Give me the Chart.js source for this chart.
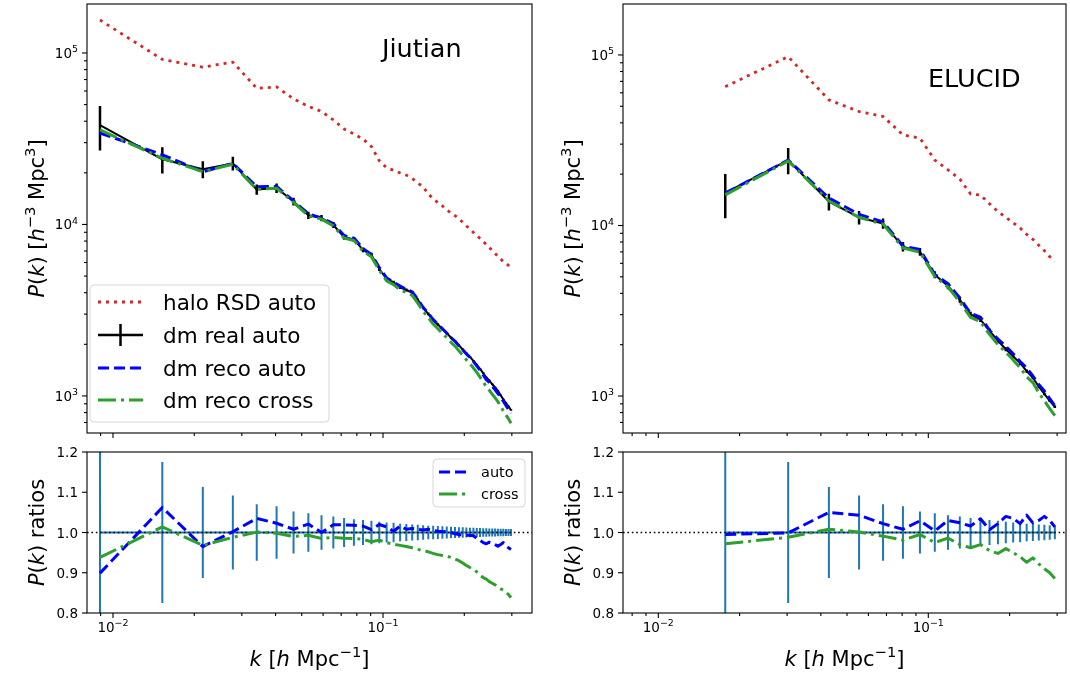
<!DOCTYPE html>
<html>
<head>
<meta charset="utf-8">
<script src="https://cdn.jsdelivr.net/npm/chart.js@4.4.1/dist/chart.umd.min.js"></script>
<style>
  html, body { margin: 0; padding: 0; background: #fff; }
  #wrap { position: relative; width: 1070px; height: 675px; }
  #wrap canvas { position: absolute; left: 0; top: 0; }
</style>
</head>
<body>
<div id="wrap">
  <canvas id="jTop" width="1070" height="675"></canvas>
  <canvas id="jBot" width="1070" height="675"></canvas>
  <canvas id="eTop" width="1070" height="675"></canvas>
  <canvas id="eBot" width="1070" height="675"></canvas>
</div>
<script>
// ---- Jiutian (47 k bins) ----
const kJ = [0.00895, 0.01523, 0.02151, 0.02779, 0.03407, 0.04035, 0.04663, 0.05291, 0.05919, 0.06547,
  0.07175, 0.07803, 0.08431, 0.09059, 0.09687, 0.10315, 0.10943, 0.11571, 0.12199, 0.12827,
  0.13455, 0.14083, 0.14711, 0.15339, 0.15967, 0.16595, 0.17223, 0.17851, 0.18479, 0.19107,
  0.19735, 0.20363, 0.20991, 0.21619, 0.22247, 0.22875, 0.23503, 0.24131, 0.24759, 0.25387,
  0.26015, 0.26643, 0.27271, 0.27899, 0.28527, 0.29155, 0.29783];
const haloJ = [155600, 91700, 82700, 88500, 62200, 63400, 54000, 48800, 45600, 40700,
  36000, 33700, 31500, 28500, 23500, 21400, 20700, 19950, 19400, 18550,
  17450, 16550, 15070, 14090, 13440, 12820, 12150, 11680, 11250, 10820,
  10280, 9800, 9420, 8980, 8630, 8280, 7960, 7640, 7340, 7050,
  6770, 6510, 6300, 6070, 5930, 5770, 5600];
const realJ = [38000, 24000, 21000, 22700, 16000, 16300, 13600, 11300, 10900, 9930,
  8450, 8180, 7110, 6640, 5500, 4810, 4590, 4300, 4150, 4010,
  3630, 3260, 3010, 2770, 2610, 2460, 2320, 2190, 2090, 1970,
  1870, 1770, 1690, 1600, 1520, 1440, 1360, 1280, 1230, 1170,
  1120, 1070, 1010, 955, 910, 869, 828];
const autoJ = [0.899, 1.062, 0.965, 1.002, 1.035, 1.023, 1.008, 1.021, 1.000, 1.019,
  1.019, 1.018, 1.016, 1.007, 1.020, 1.014, 1.003, 1.016, 1.008, 1.010,
  1.008, 1.006, 1.008, 1.005, 1.003, 1.002, 1.003, 1.000, 0.997, 0.995,
  0.993, 0.993, 0.993, 0.992, 0.985, 0.980, 0.975, 0.972, 0.976, 0.974,
  0.970, 0.966, 0.970, 0.975, 0.968, 0.962, 0.958];
const crossJ = [0.938, 1.014, 0.968, 0.988, 1.001, 0.998, 0.990, 0.993, 0.985, 0.988,
  0.986, 0.985, 0.983, 0.977, 0.981, 0.975, 0.971, 0.968, 0.965, 0.962,
  0.958, 0.955, 0.952, 0.948, 0.945, 0.943, 0.941, 0.938, 0.934, 0.930,
  0.924, 0.918, 0.913, 0.909, 0.902, 0.894, 0.888, 0.884, 0.878, 0.874,
  0.870, 0.865, 0.860, 0.857, 0.852, 0.846, 0.838];
const errJ = [0.290, 0.175, 0.113, 0.092, 0.070, 0.065, 0.052, 0.048, 0.043, 0.040,
  0.036, 0.033, 0.031, 0.029, 0.027, 0.025, 0.024, 0.022, 0.021, 0.020,
  0.019, 0.018, 0.017, 0.0165, 0.016, 0.0153, 0.0147, 0.0142, 0.0137, 0.0132,
  0.0128, 0.0124, 0.012, 0.0117, 0.0113, 0.011, 0.0107, 0.0104, 0.0102, 0.0099,
  0.0097, 0.0095, 0.0093, 0.0091, 0.0089, 0.0087, 0.0085];

// ---- ELUCID (23 k bins) ----
const kE = [0.0177, 0.03027, 0.04284, 0.05541, 0.06798, 0.08055, 0.09312, 0.10569, 0.11826, 0.13083,
  0.1434, 0.15597, 0.16854, 0.18111, 0.19368, 0.20625, 0.21882, 0.23139, 0.24396, 0.25653,
  0.2691, 0.28167, 0.29424];
const haloE = [65200, 97700, 54500, 46600, 43600, 34000, 32500, 24200, 21200, 18700,
  15300, 15100, 13400, 12050, 11170, 10380, 9660, 8870, 8300, 7650,
  7120, 6560, 6210];
const realE = [15550, 24200, 13800, 11150, 10280, 7520, 7020, 5150, 4420, 3670,
  3010, 2810, 2410, 2110, 1880, 1710, 1560, 1400, 1280, 1135,
  1030, 938, 865];
const autoE = [0.995, 0.999, 1.050, 1.043, 1.022, 1.008, 1.029, 1.004, 1.030, 1.024,
  1.016, 1.034, 1.007, 1.022, 1.040, 1.035, 1.022, 1.043, 1.024, 1.030,
  1.040, 1.030, 1.014];
const crossE = [0.972, 0.988, 1.008, 1.001, 0.991, 0.981, 0.995, 0.975, 0.986, 0.970,
  0.962, 0.970, 0.955, 0.948, 0.960, 0.950, 0.940, 0.926, 0.937, 0.922,
  0.910, 0.900, 0.886];
const errE = [0.290, 0.175, 0.113, 0.092, 0.070, 0.065, 0.052, 0.048, 0.043, 0.040,
  0.036, 0.033, 0.031, 0.029, 0.027, 0.025, 0.024, 0.022, 0.021, 0.020,
  0.019, 0.018, 0.017];

// ---- ticks ----
const xMajor = [0.01, 0.1];
const xMajorText = [['10', '−2'], ['10', '−1']];
const xMinor = [0.007, 0.008, 0.009, 0.02, 0.03, 0.04, 0.05, 0.06, 0.07, 0.08, 0.09, 0.2, 0.3];
const pMajor = [1e3, 1e4, 1e5];
const pMajorText = [['10', '3'], ['10', '4'], ['10', '5']];
const pMinor = [600, 700, 800, 900, 2e3, 3e3, 4e3, 5e3, 6e3, 7e3, 8e3, 9e3,
  2e4, 3e4, 4e4, 5e4, 6e4, 7e4, 8e4, 9e4];
const rTicks = [0.8, 0.9, 1.0, 1.1, 1.2];
const rTickText = ['0.8', '0.9', '1.0', '1.1', '1.2'];

const FONT = '"DejaVu Sans", sans-serif';
const RED = '#d62728', BLUE = '#0000ff', GREEN = '#2ca02c', TBLUE = '#1f77b4';
const DASH = [11, 5], DASHDOT = [18, 5, 3, 5], DOT = [3, 5];

const pts = (xs, ys) => xs.map((x, i) => ({x, y: ys[i]}));
const mul = (a, b) => a.map((v, i) => v * b[i]);
const bars = (xs, ys, e) => xs.flatMap((x, i) => [
  {x, y: ys[i] * (1 - e[i])}, {x, y: ys[i] * (1 + e[i])}, {x, y: null}]);
const line = (data, color, width, dash) => ({
  data, borderColor: color, borderWidth: width, borderDash: dash || [],
  pointRadius: 0, tension: 0, spanGaps: false, clip: 0, fill: false,
  borderCapStyle: 'butt', borderJoinStyle: 'round'
});

// mathtext-like text: segments [text, style] with 'i' italic and 's' superscript
function rich(ctx, segs, x, y, size, align) {
  const parts = segs.map(([t, st]) => {
    const sup = st.includes('s');
    const fs = sup ? size * 0.7 : size;
    const font = (st.includes('i') ? 'italic ' : '') + fs + 'px ' + FONT;
    ctx.font = font;
    return {t, font, sup, w: ctx.measureText(t).width};
  });
  const w = parts.reduce((s, p) => s + p.w, 0);
  let cx = align === 'center' ? x - w / 2 : align === 'right' ? x - w : x;
  ctx.textAlign = 'left';
  ctx.textBaseline = 'alphabetic';
  for (const p of parts) {
    ctx.font = p.font;
    ctx.fillText(p.t, cx, p.sup ? y - size * 0.42 : y);
    cx += p.w;
  }
}

function legendHandle(ctx, h, x0, x1, y) {
  ctx.save();
  ctx.strokeStyle = h.color;
  ctx.lineWidth = h.width;
  ctx.setLineDash(h.dash || []);
  ctx.beginPath(); ctx.moveTo(x0, y); ctx.lineTo(x1, y); ctx.stroke();
  if (h.errbar) {
    ctx.setLineDash([]);
    const xm = (x0 + x1) / 2;
    ctx.beginPath(); ctx.moveTo(xm, y - 11); ctx.lineTo(xm, y + 11); ctx.stroke();
  }
  ctx.restore();
}

const mplAxes = {
  id: 'mplAxes',
  afterDraw(chart, args, o) {
    const {ctx, chartArea: a} = chart;
    const sx = chart.scales.x, sy = chart.scales.y;
    ctx.save();
    ctx.fillStyle = '#000';
    ctx.strokeStyle = '#000';
    ctx.lineWidth = 1.1;
    ctx.strokeRect(a.left, a.top, a.right - a.left, a.bottom - a.top);

    const tick = (x0, y0, x1, y1) => { ctx.beginPath(); ctx.moveTo(x0, y0); ctx.lineTo(x1, y1); ctx.stroke(); };
    // x ticks
    xMinor.filter(v => v >= sx.min && v <= sx.max).forEach(v => {
      const p = sx.getPixelForValue(v); tick(p, a.bottom, p, a.bottom + 3);
    });
    xMajor.forEach((v, i) => {
      const p = sx.getPixelForValue(v); tick(p, a.bottom, p, a.bottom + 5);
      if (o.xLabels) rich(ctx, [[xMajorText[i][0], ''], [xMajorText[i][1], 's']], p, a.bottom + 19, 13.5, 'center');
    });
    // y ticks
    if (o.ratio) {
      rTicks.forEach((v, i) => {
        const p = sy.getPixelForValue(v); tick(a.left - 5, p, a.left, p);
        rich(ctx, [[rTickText[i], '']], a.left - 9, p + 5, 13.5, 'right');
      });
    } else {
      pMinor.filter(v => v >= sy.min && v <= sy.max).forEach(v => {
        const p = sy.getPixelForValue(v); tick(a.left - 3, p, a.left, p);
      });
      pMajor.forEach((v, i) => {
        const p = sy.getPixelForValue(v); tick(a.left - 5, p, a.left, p);
        rich(ctx, [[pMajorText[i][0], ''], [pMajorText[i][1], 's']], a.left - 9, p + 5, 13.5, 'right');
      });
    }
    // axis titles
    ctx.save();
    ctx.translate(a.left - 43, (a.top + a.bottom) / 2);
    ctx.rotate(-Math.PI / 2);
    rich(ctx, o.yTitle, 0, 0, 21, 'center');
    ctx.restore();
    if (o.xTitle) rich(ctx, o.xTitle, (a.left + a.right) / 2, 666, 21, 'center');
    // panel label
    if (o.label) {
      ctx.font = '25.5px ' + FONT; ctx.textAlign = 'left'; ctx.textBaseline = 'alphabetic';
      ctx.fillText(o.label.text, o.label.x, o.label.y);
    }
    // legend
    if (o.legend) {
      const L = o.legend;
      ctx.save();
      ctx.beginPath();
      ctx.roundRect(L.x0, L.y0, L.x1 - L.x0, L.y1 - L.y0, 4);
      ctx.fillStyle = 'rgba(255,255,255,0.8)'; ctx.fill();
      ctx.strokeStyle = 'rgba(204,204,204,0.8)'; ctx.lineWidth = 1; ctx.stroke();
      ctx.restore();
      L.items.forEach((it, i) => {
        const y = L.rows[i];
        legendHandle(ctx, it, L.hx0, L.hx1, y);
        ctx.fillStyle = '#000';
        ctx.font = L.size + 'px ' + FONT; ctx.textAlign = 'left'; ctx.textBaseline = 'alphabetic';
        ctx.fillText(it.text, L.tx, y + L.size * 0.37);
      });
    }
    ctx.restore();
  }
};

const yTitleP = [['P', 'i'], ['(', ''], ['k', 'i'], [') [', ''], ['h', 'i'], ['−3', 's'], [' Mpc', ''], ['3', 's'], [']', '']];
const yTitleR = [['P', 'i'], ['(', ''], ['k', 'i'], [')', ''], [' ratios', '']];
const xTitle = [['k', 'i'], [' [', ''], ['h', 'i'], [' Mpc', ''], ['−1', 's'], [']', '']];

function makeChart(id, area, xr, yScale, datasets, deco) {
  return new Chart(document.getElementById(id), {
    type: 'line',
    data: {datasets},
    options: {
      responsive: false,
      animation: false,
      devicePixelRatio: 1,
      layout: {padding: {left: area[0], top: area[1], right: 1070 - area[2], bottom: 675 - area[3]}},
      plugins: {legend: {display: false}, tooltip: {enabled: false}, mplAxes: deco},
      scales: {
        x: {type: 'logarithmic', min: xr[0], max: xr[1], display: false},
        y: Object.assign({display: false}, yScale)
      }
    },
    plugins: [mplAxes]
  });
}

const topItems = [
  {text: 'halo RSD auto', color: RED, width: 3, dash: DOT},
  {text: 'dm real auto', color: '#000', width: 2.5, errbar: true},
  {text: 'dm reco auto', color: BLUE, width: 3, dash: DASH},
  {text: 'dm reco cross', color: GREEN, width: 3, dash: DASHDOT}
];
const botItems = [
  {text: 'auto', color: BLUE, width: 3, dash: DASH},
  {text: 'cross', color: GREEN, width: 3, dash: DASHDOT}
];

const xJ = [0.008012, 0.3563];
const xE = [0.0074, 0.3236];

function topSets(k, halo, real, auto, cross, err) {
  return [
    line(pts(k, mul(real, cross)), GREEN, 3, DASHDOT),
    line(pts(k, mul(real, auto)), BLUE, 3, DASH),
    line(bars(k, real, err), '#000', 2.5),
    line(pts(k, real), '#000', 2),
    line(pts(k, halo), RED, 2.8, DOT)
  ];
}
function botSets(k, auto, cross, err, xr) {
  const ones = k.map(() => 1);
  return [
    line(pts(k, cross), GREEN, 3, DASHDOT),
    line(pts(k, auto), BLUE, 3, DASH),
    line(pts(xr, [1, 1]), '#000', 1.6, [1.6, 2.8]),
    line(bars(k, ones, err), TBLUE, 2),
    line(pts(k, ones), TBLUE, 2)
  ];
}

makeChart('jTop', [87, 4, 532, 433], xJ, {type: 'logarithmic', min: 608, max: 193000},
  topSets(kJ, haloJ, realJ, autoJ, crossJ, errJ),
  {yTitle: yTitleP, label: {text: 'Jiutian', x: 382, y: 57},
   legend: {x0: 90, y0: 285, x1: 329, y1: 422, hx0: 98, hx1: 143, tx: 163, size: 21.5,
            rows: [302, 335, 368, 400], items: topItems}});
makeChart('jBot', [87, 452, 532, 613], xJ, {type: 'linear', min: 0.8, max: 1.2},
  botSets(kJ, autoJ, crossJ, errJ, xJ),
  {ratio: true, xLabels: true, yTitle: yTitleR, xTitle: xTitle,
   legend: {x0: 433, y0: 459, x1: 525, y1: 507, hx0: 439, hx1: 466, tx: 481, size: 14.5,
            rows: [472, 494], items: botItems}});
makeChart('eTop', [623, 4, 1066, 433], xE, {type: 'logarithmic', min: 607, max: 199000},
  topSets(kE, haloE, realE, autoE, crossE, errE),
  {yTitle: yTitleP, label: {text: 'ELUCID', x: 928, y: 87}});
makeChart('eBot', [623, 452, 1066, 613], xE, {type: 'linear', min: 0.8, max: 1.2},
  botSets(kE, autoE, crossE, errE, xE),
  {ratio: true, xLabels: true, yTitle: yTitleR, xTitle: xTitle});
</script>
</body>
</html>
